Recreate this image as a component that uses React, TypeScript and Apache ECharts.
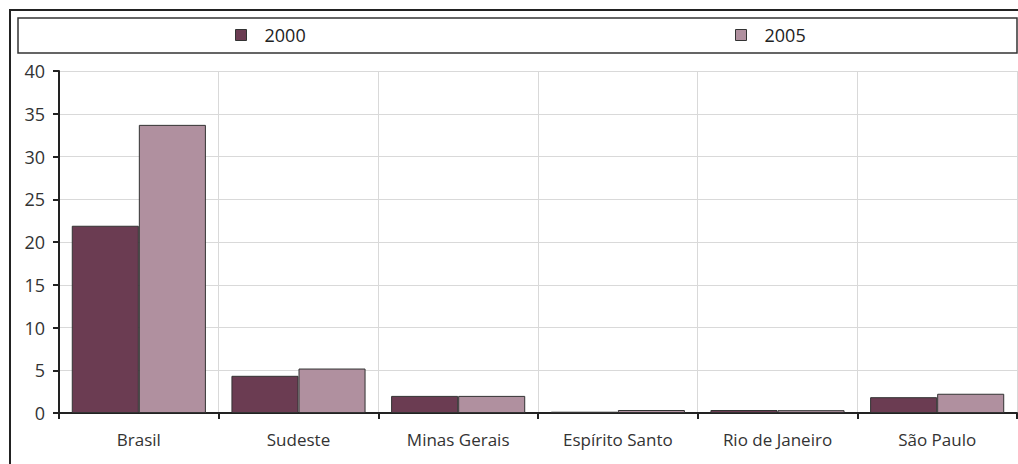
import React, { useEffect, useRef } from "react";
import * as echarts from "echarts";

const categories = ["Brasil", "Sudeste", "Minas Gerais", "Espírito Santo", "Rio de Janeiro", "São Paulo"];
const seriesNames = ["2000", "2005"];
const values2000 = [21.9, 4.35, 2.0, 0.15, 0.35, 1.85];
const values2005 = [33.7, 5.2, 2.0, 0.35, 0.33, 2.25];
const colors = ["#6b3c52", "#b0909f"];

export default function App() {
  const ref = useRef<HTMLDivElement>(null);
  useEffect(() => {
    document.body.style.margin = "0";
    const chart = echarts.init(ref.current!, null, { renderer: "svg" });
    const font = "'Open Sans', 'DejaVu Sans', sans-serif";
    const legendBase = {
      top: 21,
      icon: "rect",
      itemWidth: 11,
      itemHeight: 11,
      itemStyle: { borderColor: "#333", borderWidth: 1 },
      textStyle: { fontSize: 18, color: "#222", fontFamily: font, padding: [0, 0, 0, 13] },
    };
    chart.setOption({
      animation: false,
      textStyle: { fontFamily: font },
      grid: { left: 59, right: 1, top: 71, bottom: 51, containLabel: false },
      legend: [
        { ...legendBase, data: [seriesNames[0]], left: 230 },
        { ...legendBase, data: [seriesNames[1]], left: 730 },
      ],
      xAxis: {
        type: "category",
        data: categories,
        axisLine: { lineStyle: { color: "#222", width: 2 } },
        axisTick: { show: true, length: 6, lineStyle: { color: "#222", width: 2 } },
        axisLabel: { fontSize: 17, color: "#333", margin: 18, fontFamily: font },
        splitLine: { show: true, lineStyle: { color: "#d9d9d9", width: 1 } },
      },
      yAxis: {
        type: "value",
        min: 0,
        max: 40,
        interval: 5,
        axisLine: { show: true, lineStyle: { color: "#222", width: 2 } },
        axisTick: { show: true, length: 6, lineStyle: { color: "#222", width: 2 } },
        axisLabel: { fontSize: 18, color: "#333", margin: 14, fontFamily: font },
        splitLine: { show: true, lineStyle: { color: "#d9d9d9", width: 1 } },
      },
      series: [
        {
          name: seriesNames[0],
          type: "bar",
          data: values2000,
          barGap: "0%",
          barCategoryGap: "16%",
          itemStyle: { color: colors[0], borderColor: "#333", borderWidth: 1 },
        },
        {
          name: seriesNames[1],
          type: "bar",
          data: values2005,
          barGap: "0%",
          barCategoryGap: "16%",
          itemStyle: { color: colors[1], borderColor: "#333", borderWidth: 1 },
        },
      ],
      graphic: [
        {
          type: "polyline",
          shape: { points: [[10, 464], [10, 10], [1018, 10]] },
          style: { stroke: "#222", lineWidth: 2, fill: "none" },
          z: 10,
        },
        {
          type: "rect",
          shape: { x: 18, y: 18, width: 999, height: 35 },
          style: { stroke: "#333", lineWidth: 1.5, fill: "none" },
          z: 10,
        },
      ],
    });
    return () => chart.dispose();
  }, []);
  return <div ref={ref} style={{ width: 1018, height: 464 }} />;
}
